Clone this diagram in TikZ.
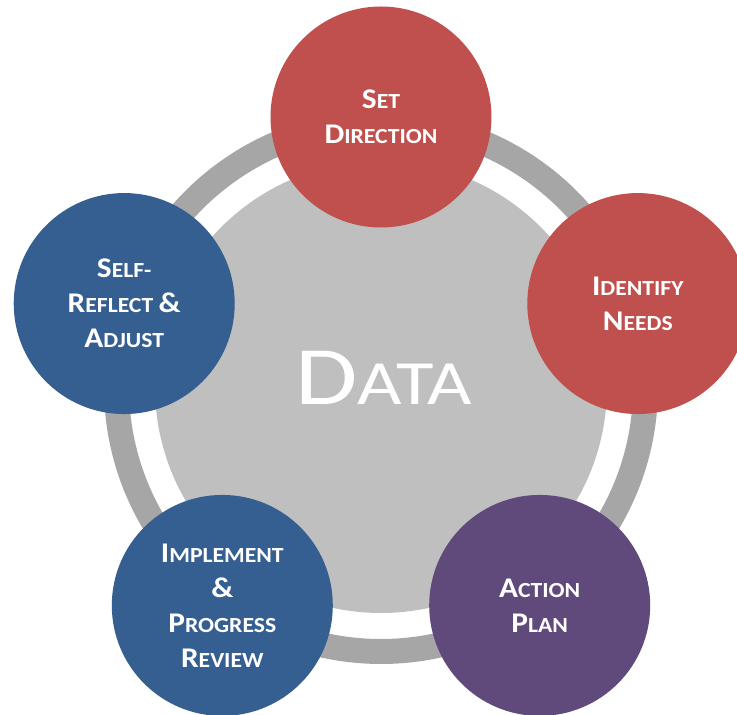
\documentclass[tikz,border=0pt]{standalone}
\usepackage{fontspec}
\setmainfont{Carlito}
\newfontfamily\stagefam[FakeStretch=1.1]{Carlito}
\newfontfamily\datafam[FakeStretch=1.22]{Carlito}
\usepackage{tikz}
\usepackage{xcolor}
\usetikzlibrary{calc}

\definecolor{stagered}{HTML}{C0504D}
\definecolor{stageblue}{HTML}{365F91}
\definecolor{stagepurple}{HTML}{604A7B}
\definecolor{ringgray}{HTML}{A6A6A6}
\definecolor{discgray}{HTML}{BFBFBF}

\newcommand{\stagefont}{\stagefam\fontsize{21.5}{35}\selectfont\bfseries}
\newcommand{\smc}[2]{{\fontsize{28.5}{35}\selectfont #1}#2}

\begin{document}
\begin{tikzpicture}[x=1pt,y=1pt,
  stage/.style={circle, minimum size=221pt, inner sep=0pt, text=white, align=center, font=\stagefont}]
\clip (0,0) rectangle (737,715);
\coordinate (hub) at (381,328);
\fill[ringgray, even odd rule] (hub) circle (277) (hub) circle (252);
\node[circle, fill=discgray, minimum size=452pt, inner sep=0pt] (data) at (hub) {};
\node[anchor=base, text=white, font=\datafam\fontsize{63}{70}\selectfont] (datalabel) at (384,310) {\smc{\fontsize{83}{90}\selectfont D}{ATA}};

\node[stage, fill=stagered] (setdir) at ($(hub)+(90:270)$) {\smc{S}{ET}\\\smc{D}{IRECTION}};
\node[stage, fill=stagered] (needs) at ($(hub)+(18:270)$) {\smc{I}{DENTIFY}\\\smc{N}{EEDS}};
\node[stage, fill=stagepurple] (plan) at ($(hub)+(-54:270)$) {\smc{A}{CTION}\\\smc{P}{LAN}};
\node[stage, fill=stageblue] (review) at ($(hub)+(-126:270)$) {\smc{I}{MPLEMENT}\\\smc{\&}{}\\\smc{P}{ROGRESS}\\\smc{R}{EVIEW}};
\node[stage, fill=stageblue] (reflect) at ($(hub)+(162:270)$) {\smc{S}{ELF-}\\\smc{R}{EFLECT} \smc{\&}{}\\\smc{A}{DJUST}};
\end{tikzpicture}
\end{document}
